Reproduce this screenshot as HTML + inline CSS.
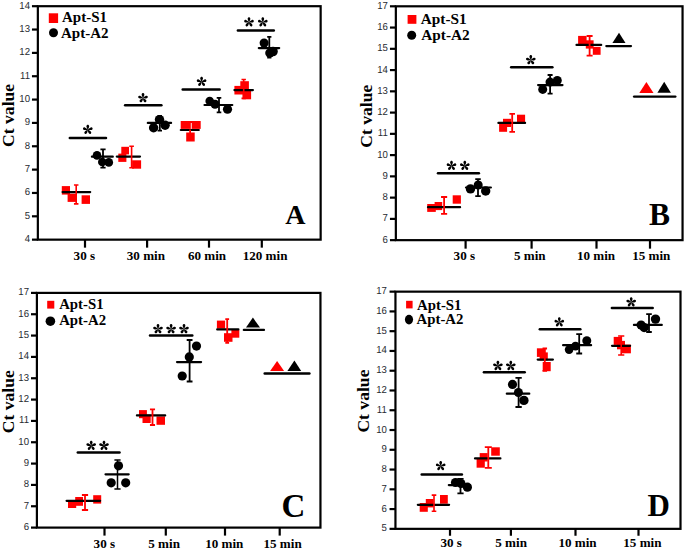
<!DOCTYPE html><html><head><meta charset="utf-8"><style>html,body{margin:0;padding:0;background:#fff;width:685px;height:549px;overflow:hidden}svg{display:block}</style></head><body>
<svg width="685" height="549" viewBox="0 0 685 549">
<rect width="685" height="549" fill="#fff"/>
<rect x="37.85" y="6.2" width="282.8" height="233.45" fill="none" stroke="#000" stroke-width="2.2"/>
<line x1="31.95" y1="239.65" x2="37.85" y2="239.65" stroke="#000" stroke-width="2.2"/>
<text transform="translate(30,242.15) scale(1,1.06)" font-family="'Liberation Sans', sans-serif" font-size="9.6" fill="#262a30" text-anchor="end" text-rendering="geometricPrecision">4</text>
<line x1="31.95" y1="216.31" x2="37.85" y2="216.31" stroke="#000" stroke-width="2.2"/>
<text transform="translate(30,218.81) scale(1,1.06)" font-family="'Liberation Sans', sans-serif" font-size="9.6" fill="#262a30" text-anchor="end" text-rendering="geometricPrecision">5</text>
<line x1="31.95" y1="192.96" x2="37.85" y2="192.96" stroke="#000" stroke-width="2.2"/>
<text transform="translate(30,195.46) scale(1,1.06)" font-family="'Liberation Sans', sans-serif" font-size="9.6" fill="#262a30" text-anchor="end" text-rendering="geometricPrecision">6</text>
<line x1="31.95" y1="169.62" x2="37.85" y2="169.62" stroke="#000" stroke-width="2.2"/>
<text transform="translate(30,172.12) scale(1,1.06)" font-family="'Liberation Sans', sans-serif" font-size="9.6" fill="#262a30" text-anchor="end" text-rendering="geometricPrecision">7</text>
<line x1="31.95" y1="146.27" x2="37.85" y2="146.27" stroke="#000" stroke-width="2.2"/>
<text transform="translate(30,148.77) scale(1,1.06)" font-family="'Liberation Sans', sans-serif" font-size="9.6" fill="#262a30" text-anchor="end" text-rendering="geometricPrecision">8</text>
<line x1="31.95" y1="122.92" x2="37.85" y2="122.92" stroke="#000" stroke-width="2.2"/>
<text transform="translate(30,125.42) scale(1,1.06)" font-family="'Liberation Sans', sans-serif" font-size="9.6" fill="#262a30" text-anchor="end" text-rendering="geometricPrecision">9</text>
<line x1="31.95" y1="99.58" x2="37.85" y2="99.58" stroke="#000" stroke-width="2.2"/>
<text transform="translate(30,102.08) scale(1,1.06)" font-family="'Liberation Sans', sans-serif" font-size="9.6" fill="#262a30" text-anchor="end" text-rendering="geometricPrecision">10</text>
<line x1="31.95" y1="76.23" x2="37.85" y2="76.23" stroke="#000" stroke-width="2.2"/>
<text transform="translate(30,78.73) scale(1,1.06)" font-family="'Liberation Sans', sans-serif" font-size="9.6" fill="#262a30" text-anchor="end" text-rendering="geometricPrecision">11</text>
<line x1="31.95" y1="52.89" x2="37.85" y2="52.89" stroke="#000" stroke-width="2.2"/>
<text transform="translate(30,55.39) scale(1,1.06)" font-family="'Liberation Sans', sans-serif" font-size="9.6" fill="#262a30" text-anchor="end" text-rendering="geometricPrecision">12</text>
<line x1="31.95" y1="29.54" x2="37.85" y2="29.54" stroke="#000" stroke-width="2.2"/>
<text transform="translate(30,32.04) scale(1,1.06)" font-family="'Liberation Sans', sans-serif" font-size="9.6" fill="#262a30" text-anchor="end" text-rendering="geometricPrecision">13</text>
<line x1="31.95" y1="6.2" x2="37.85" y2="6.2" stroke="#000" stroke-width="2.2"/>
<text transform="translate(30,8.7) scale(1,1.06)" font-family="'Liberation Sans', sans-serif" font-size="9.6" fill="#262a30" text-anchor="end" text-rendering="geometricPrecision">14</text>
<line x1="85" y1="239.65" x2="85" y2="247.65" stroke="#000" stroke-width="2.2"/>
<text transform="translate(73.6,260.3) scale(1,1.03)" font-family="'Liberation Serif', serif" font-weight="bold" font-size="13.1" fill="#000">30 s</text>
<line x1="147.1" y1="239.65" x2="147.1" y2="247.65" stroke="#000" stroke-width="2.2"/>
<text transform="translate(126.8,260.3) scale(1,1.03)" font-family="'Liberation Serif', serif" font-weight="bold" font-size="13.1" fill="#000">30 min</text>
<line x1="209" y1="239.65" x2="209" y2="247.65" stroke="#000" stroke-width="2.2"/>
<text transform="translate(187.9,260.3) scale(1,1.03)" font-family="'Liberation Serif', serif" font-weight="bold" font-size="13.1" fill="#000">60 min</text>
<line x1="261.8" y1="239.65" x2="261.8" y2="247.65" stroke="#000" stroke-width="2.2"/>
<text transform="translate(242.7,260.3) scale(1,1.03)" font-family="'Liberation Serif', serif" font-weight="bold" font-size="13.1" fill="#000">120 min</text>
<text transform="translate(14.2,146.9) rotate(-90)" x="0" y="0" font-family="'Liberation Serif', serif" font-weight="bold" font-size="17.6" fill="#000">Ct value</text>
<rect x="395.85" y="6.3" width="286.7" height="233.85" fill="none" stroke="#000" stroke-width="2.2"/>
<line x1="389.95" y1="240.15" x2="395.85" y2="240.15" stroke="#000" stroke-width="2.2"/>
<text transform="translate(387.8,242.65) scale(1,1.06)" font-family="'Liberation Sans', sans-serif" font-size="9.6" fill="#262a30" text-anchor="end" text-rendering="geometricPrecision">6</text>
<line x1="389.95" y1="218.89" x2="395.85" y2="218.89" stroke="#000" stroke-width="2.2"/>
<text transform="translate(387.8,221.39) scale(1,1.06)" font-family="'Liberation Sans', sans-serif" font-size="9.6" fill="#262a30" text-anchor="end" text-rendering="geometricPrecision">7</text>
<line x1="389.95" y1="197.63" x2="395.85" y2="197.63" stroke="#000" stroke-width="2.2"/>
<text transform="translate(387.8,200.13) scale(1,1.06)" font-family="'Liberation Sans', sans-serif" font-size="9.6" fill="#262a30" text-anchor="end" text-rendering="geometricPrecision">8</text>
<line x1="389.95" y1="176.37" x2="395.85" y2="176.37" stroke="#000" stroke-width="2.2"/>
<text transform="translate(387.8,178.87) scale(1,1.06)" font-family="'Liberation Sans', sans-serif" font-size="9.6" fill="#262a30" text-anchor="end" text-rendering="geometricPrecision">9</text>
<line x1="389.95" y1="155.11" x2="395.85" y2="155.11" stroke="#000" stroke-width="2.2"/>
<text transform="translate(387.8,157.61) scale(1,1.06)" font-family="'Liberation Sans', sans-serif" font-size="9.6" fill="#262a30" text-anchor="end" text-rendering="geometricPrecision">10</text>
<line x1="389.95" y1="133.85" x2="395.85" y2="133.85" stroke="#000" stroke-width="2.2"/>
<text transform="translate(387.8,136.35) scale(1,1.06)" font-family="'Liberation Sans', sans-serif" font-size="9.6" fill="#262a30" text-anchor="end" text-rendering="geometricPrecision">11</text>
<line x1="389.95" y1="112.6" x2="395.85" y2="112.6" stroke="#000" stroke-width="2.2"/>
<text transform="translate(387.8,115.1) scale(1,1.06)" font-family="'Liberation Sans', sans-serif" font-size="9.6" fill="#262a30" text-anchor="end" text-rendering="geometricPrecision">12</text>
<line x1="389.95" y1="91.34" x2="395.85" y2="91.34" stroke="#000" stroke-width="2.2"/>
<text transform="translate(387.8,93.84) scale(1,1.06)" font-family="'Liberation Sans', sans-serif" font-size="9.6" fill="#262a30" text-anchor="end" text-rendering="geometricPrecision">13</text>
<line x1="389.95" y1="70.08" x2="395.85" y2="70.08" stroke="#000" stroke-width="2.2"/>
<text transform="translate(387.8,72.58) scale(1,1.06)" font-family="'Liberation Sans', sans-serif" font-size="9.6" fill="#262a30" text-anchor="end" text-rendering="geometricPrecision">14</text>
<line x1="389.95" y1="48.82" x2="395.85" y2="48.82" stroke="#000" stroke-width="2.2"/>
<text transform="translate(387.8,51.32) scale(1,1.06)" font-family="'Liberation Sans', sans-serif" font-size="9.6" fill="#262a30" text-anchor="end" text-rendering="geometricPrecision">15</text>
<line x1="389.95" y1="27.56" x2="395.85" y2="27.56" stroke="#000" stroke-width="2.2"/>
<text transform="translate(387.8,30.06) scale(1,1.06)" font-family="'Liberation Sans', sans-serif" font-size="9.6" fill="#262a30" text-anchor="end" text-rendering="geometricPrecision">16</text>
<line x1="389.95" y1="6.3" x2="395.85" y2="6.3" stroke="#000" stroke-width="2.2"/>
<text transform="translate(387.8,8.8) scale(1,1.06)" font-family="'Liberation Sans', sans-serif" font-size="9.6" fill="#262a30" text-anchor="end" text-rendering="geometricPrecision">17</text>
<line x1="465.6" y1="240.15" x2="465.6" y2="248.65" stroke="#000" stroke-width="2.2"/>
<text transform="translate(453.6,260.3) scale(1,1.03)" font-family="'Liberation Serif', serif" font-weight="bold" font-size="13.1" fill="#000">30 s</text>
<line x1="531.6" y1="240.15" x2="531.6" y2="248.65" stroke="#000" stroke-width="2.2"/>
<text transform="translate(514,260.3) scale(1,1.03)" font-family="'Liberation Serif', serif" font-weight="bold" font-size="13.1" fill="#000">5 min</text>
<line x1="596.5" y1="240.15" x2="596.5" y2="248.65" stroke="#000" stroke-width="2.2"/>
<text transform="translate(576.9,260.3) scale(1,1.03)" font-family="'Liberation Serif', serif" font-weight="bold" font-size="13.1" fill="#000">10 min</text>
<line x1="650" y1="240.15" x2="650" y2="248.65" stroke="#000" stroke-width="2.2"/>
<text transform="translate(632.2,260.3) scale(1,1.03)" font-family="'Liberation Serif', serif" font-weight="bold" font-size="13.1" fill="#000">15 min</text>
<text transform="translate(371.9,147.8) rotate(-90)" x="0" y="0" font-family="'Liberation Serif', serif" font-weight="bold" font-size="17.6" fill="#000">Ct value</text>
<rect x="36.9" y="292.9" width="283.55" height="234.7" fill="none" stroke="#000" stroke-width="2.2"/>
<line x1="31" y1="527.6" x2="36.9" y2="527.6" stroke="#000" stroke-width="2.2"/>
<text transform="translate(29,530.1) scale(1,1.06)" font-family="'Liberation Sans', sans-serif" font-size="9.6" fill="#262a30" text-anchor="end" text-rendering="geometricPrecision">6</text>
<line x1="31" y1="506.26" x2="36.9" y2="506.26" stroke="#000" stroke-width="2.2"/>
<text transform="translate(29,508.76) scale(1,1.06)" font-family="'Liberation Sans', sans-serif" font-size="9.6" fill="#262a30" text-anchor="end" text-rendering="geometricPrecision">7</text>
<line x1="31" y1="484.93" x2="36.9" y2="484.93" stroke="#000" stroke-width="2.2"/>
<text transform="translate(29,487.43) scale(1,1.06)" font-family="'Liberation Sans', sans-serif" font-size="9.6" fill="#262a30" text-anchor="end" text-rendering="geometricPrecision">8</text>
<line x1="31" y1="463.59" x2="36.9" y2="463.59" stroke="#000" stroke-width="2.2"/>
<text transform="translate(29,466.09) scale(1,1.06)" font-family="'Liberation Sans', sans-serif" font-size="9.6" fill="#262a30" text-anchor="end" text-rendering="geometricPrecision">9</text>
<line x1="31" y1="442.25" x2="36.9" y2="442.25" stroke="#000" stroke-width="2.2"/>
<text transform="translate(29,444.75) scale(1,1.06)" font-family="'Liberation Sans', sans-serif" font-size="9.6" fill="#262a30" text-anchor="end" text-rendering="geometricPrecision">10</text>
<line x1="31" y1="420.92" x2="36.9" y2="420.92" stroke="#000" stroke-width="2.2"/>
<text transform="translate(29,423.42) scale(1,1.06)" font-family="'Liberation Sans', sans-serif" font-size="9.6" fill="#262a30" text-anchor="end" text-rendering="geometricPrecision">11</text>
<line x1="31" y1="399.58" x2="36.9" y2="399.58" stroke="#000" stroke-width="2.2"/>
<text transform="translate(29,402.08) scale(1,1.06)" font-family="'Liberation Sans', sans-serif" font-size="9.6" fill="#262a30" text-anchor="end" text-rendering="geometricPrecision">12</text>
<line x1="31" y1="378.25" x2="36.9" y2="378.25" stroke="#000" stroke-width="2.2"/>
<text transform="translate(29,380.75) scale(1,1.06)" font-family="'Liberation Sans', sans-serif" font-size="9.6" fill="#262a30" text-anchor="end" text-rendering="geometricPrecision">13</text>
<line x1="31" y1="356.91" x2="36.9" y2="356.91" stroke="#000" stroke-width="2.2"/>
<text transform="translate(29,359.41) scale(1,1.06)" font-family="'Liberation Sans', sans-serif" font-size="9.6" fill="#262a30" text-anchor="end" text-rendering="geometricPrecision">14</text>
<line x1="31" y1="335.57" x2="36.9" y2="335.57" stroke="#000" stroke-width="2.2"/>
<text transform="translate(29,338.07) scale(1,1.06)" font-family="'Liberation Sans', sans-serif" font-size="9.6" fill="#262a30" text-anchor="end" text-rendering="geometricPrecision">15</text>
<line x1="31" y1="314.24" x2="36.9" y2="314.24" stroke="#000" stroke-width="2.2"/>
<text transform="translate(29,316.74) scale(1,1.06)" font-family="'Liberation Sans', sans-serif" font-size="9.6" fill="#262a30" text-anchor="end" text-rendering="geometricPrecision">16</text>
<line x1="31" y1="292.9" x2="36.9" y2="292.9" stroke="#000" stroke-width="2.2"/>
<text transform="translate(29,295.4) scale(1,1.06)" font-family="'Liberation Sans', sans-serif" font-size="9.6" fill="#262a30" text-anchor="end" text-rendering="geometricPrecision">17</text>
<line x1="104.5" y1="527.6" x2="104.5" y2="535.6" stroke="#000" stroke-width="2.2"/>
<text transform="translate(93.6,547.6) scale(1,1.03)" font-family="'Liberation Serif', serif" font-weight="bold" font-size="13.1" fill="#000">30 s</text>
<line x1="165.8" y1="527.6" x2="165.8" y2="535.6" stroke="#000" stroke-width="2.2"/>
<text transform="translate(148.3,547.6) scale(1,1.03)" font-family="'Liberation Serif', serif" font-weight="bold" font-size="13.1" fill="#000">5 min</text>
<line x1="225" y1="527.6" x2="225" y2="535.6" stroke="#000" stroke-width="2.2"/>
<text transform="translate(205.2,547.6) scale(1,1.03)" font-family="'Liberation Serif', serif" font-weight="bold" font-size="13.1" fill="#000">10 min</text>
<line x1="279.7" y1="527.6" x2="279.7" y2="535.6" stroke="#000" stroke-width="2.2"/>
<text transform="translate(263.5,547.6) scale(1,1.03)" font-family="'Liberation Serif', serif" font-weight="bold" font-size="13.1" fill="#000">15 min</text>
<text transform="translate(13.8,433.3) rotate(-90)" x="0" y="0" font-family="'Liberation Serif', serif" font-weight="bold" font-size="17.6" fill="#000">Ct value</text>
<rect x="395.45" y="291.65" width="285.05" height="237.2" fill="none" stroke="#000" stroke-width="2.2"/>
<line x1="389.55" y1="528.85" x2="395.45" y2="528.85" stroke="#000" stroke-width="2.2"/>
<text transform="translate(386.8,531.35) scale(1,1.06)" font-family="'Liberation Sans', sans-serif" font-size="9.6" fill="#262a30" text-anchor="end" text-rendering="geometricPrecision">5</text>
<line x1="389.55" y1="509.08" x2="395.45" y2="509.08" stroke="#000" stroke-width="2.2"/>
<text transform="translate(386.8,511.58) scale(1,1.06)" font-family="'Liberation Sans', sans-serif" font-size="9.6" fill="#262a30" text-anchor="end" text-rendering="geometricPrecision">6</text>
<line x1="389.55" y1="489.32" x2="395.45" y2="489.32" stroke="#000" stroke-width="2.2"/>
<text transform="translate(386.8,491.82) scale(1,1.06)" font-family="'Liberation Sans', sans-serif" font-size="9.6" fill="#262a30" text-anchor="end" text-rendering="geometricPrecision">7</text>
<line x1="389.55" y1="469.55" x2="395.45" y2="469.55" stroke="#000" stroke-width="2.2"/>
<text transform="translate(386.8,472.05) scale(1,1.06)" font-family="'Liberation Sans', sans-serif" font-size="9.6" fill="#262a30" text-anchor="end" text-rendering="geometricPrecision">8</text>
<line x1="389.55" y1="449.78" x2="395.45" y2="449.78" stroke="#000" stroke-width="2.2"/>
<text transform="translate(386.8,452.28) scale(1,1.06)" font-family="'Liberation Sans', sans-serif" font-size="9.6" fill="#262a30" text-anchor="end" text-rendering="geometricPrecision">9</text>
<line x1="389.55" y1="430.02" x2="395.45" y2="430.02" stroke="#000" stroke-width="2.2"/>
<text transform="translate(386.8,432.52) scale(1,1.06)" font-family="'Liberation Sans', sans-serif" font-size="9.6" fill="#262a30" text-anchor="end" text-rendering="geometricPrecision">10</text>
<line x1="389.55" y1="410.25" x2="395.45" y2="410.25" stroke="#000" stroke-width="2.2"/>
<text transform="translate(386.8,412.75) scale(1,1.06)" font-family="'Liberation Sans', sans-serif" font-size="9.6" fill="#262a30" text-anchor="end" text-rendering="geometricPrecision">11</text>
<line x1="389.55" y1="390.48" x2="395.45" y2="390.48" stroke="#000" stroke-width="2.2"/>
<text transform="translate(386.8,392.98) scale(1,1.06)" font-family="'Liberation Sans', sans-serif" font-size="9.6" fill="#262a30" text-anchor="end" text-rendering="geometricPrecision">12</text>
<line x1="389.55" y1="370.72" x2="395.45" y2="370.72" stroke="#000" stroke-width="2.2"/>
<text transform="translate(386.8,373.22) scale(1,1.06)" font-family="'Liberation Sans', sans-serif" font-size="9.6" fill="#262a30" text-anchor="end" text-rendering="geometricPrecision">13</text>
<line x1="389.55" y1="350.95" x2="395.45" y2="350.95" stroke="#000" stroke-width="2.2"/>
<text transform="translate(386.8,353.45) scale(1,1.06)" font-family="'Liberation Sans', sans-serif" font-size="9.6" fill="#262a30" text-anchor="end" text-rendering="geometricPrecision">14</text>
<line x1="389.55" y1="331.18" x2="395.45" y2="331.18" stroke="#000" stroke-width="2.2"/>
<text transform="translate(386.8,333.68) scale(1,1.06)" font-family="'Liberation Sans', sans-serif" font-size="9.6" fill="#262a30" text-anchor="end" text-rendering="geometricPrecision">15</text>
<line x1="389.55" y1="311.42" x2="395.45" y2="311.42" stroke="#000" stroke-width="2.2"/>
<text transform="translate(386.8,313.92) scale(1,1.06)" font-family="'Liberation Sans', sans-serif" font-size="9.6" fill="#262a30" text-anchor="end" text-rendering="geometricPrecision">16</text>
<line x1="389.55" y1="291.65" x2="395.45" y2="291.65" stroke="#000" stroke-width="2.2"/>
<text transform="translate(386.8,294.15) scale(1,1.06)" font-family="'Liberation Sans', sans-serif" font-size="9.6" fill="#262a30" text-anchor="end" text-rendering="geometricPrecision">17</text>
<line x1="450" y1="528.85" x2="450" y2="535.75" stroke="#000" stroke-width="2.2"/>
<text transform="translate(440.5,546.8) scale(1,1.03)" font-family="'Liberation Serif', serif" font-weight="bold" font-size="13.1" fill="#000">30 s</text>
<line x1="510.9" y1="528.85" x2="510.9" y2="535.75" stroke="#000" stroke-width="2.2"/>
<text transform="translate(495.3,546.8) scale(1,1.03)" font-family="'Liberation Serif', serif" font-weight="bold" font-size="13.1" fill="#000">5 min</text>
<line x1="575.5" y1="528.85" x2="575.5" y2="535.75" stroke="#000" stroke-width="2.2"/>
<text transform="translate(558.4,546.8) scale(1,1.03)" font-family="'Liberation Serif', serif" font-weight="bold" font-size="13.1" fill="#000">10 min</text>
<line x1="638.5" y1="528.85" x2="638.5" y2="535.75" stroke="#000" stroke-width="2.2"/>
<text transform="translate(623.3,546.8) scale(1,1.03)" font-family="'Liberation Serif', serif" font-weight="bold" font-size="13.1" fill="#000">15 min</text>
<text transform="translate(368.7,432.6) rotate(-90)" x="0" y="0" font-family="'Liberation Serif', serif" font-weight="bold" font-size="17.6" fill="#000">Ct value</text>
<rect x="61.8" y="186.1" width="8.2" height="8.5" fill="#ff0000"/>
<rect x="67.6" y="193.7" width="8.5" height="8.2" fill="#ff0000"/>
<rect x="81.6" y="195.3" width="8.4" height="8.6" fill="#ff0000"/>
<line x1="62.6" y1="192.1" x2="90.2" y2="192.1" stroke="#000" stroke-width="2.2" stroke-linecap="round"/>
<path d="M76.2 185V203.9M73.95 185H78.45M73.95 203.9H78.45" stroke="#ff0000" stroke-width="1.6" fill="none"/>
<circle cx="97" cy="155.4" r="4.3" fill="#000"/>
<circle cx="102.3" cy="162" r="4.3" fill="#000"/>
<circle cx="108.8" cy="162.4" r="4.3" fill="#000"/>
<line x1="91.9" y1="156.7" x2="112.8" y2="156.7" stroke="#000" stroke-width="2.2" stroke-linecap="round"/>
<path d="M103 149.3V167.6M100.4 149.3H105.6M100.4 167.6H105.6" stroke="#000" stroke-width="1.8" fill="none"/>
<line x1="69.8" y1="137.9" x2="106" y2="137.9" stroke="#000" stroke-width="2.5" stroke-linecap="round"/>
<g transform="translate(87.8,129.75)"><path transform="rotate(0)" d="M0 0.2C-0.6 -0.9 -1.3 -2.4 -1.3 -3.5C-1.3 -4.5 -0.65 -5 0 -5C0.65 -5 1.3 -4.5 1.3 -3.5C1.3 -2.4 0.6 -0.9 0 0.2Z"/><path transform="rotate(72)" d="M0 0.2C-0.6 -0.9 -1.3 -2.4 -1.3 -3.5C-1.3 -4.5 -0.65 -5 0 -5C0.65 -5 1.3 -4.5 1.3 -3.5C1.3 -2.4 0.6 -0.9 0 0.2Z"/><path transform="rotate(144)" d="M0 0.2C-0.6 -0.9 -1.3 -2.4 -1.3 -3.5C-1.3 -4.5 -0.65 -5 0 -5C0.65 -5 1.3 -4.5 1.3 -3.5C1.3 -2.4 0.6 -0.9 0 0.2Z"/><path transform="rotate(216)" d="M0 0.2C-0.6 -0.9 -1.3 -2.4 -1.3 -3.5C-1.3 -4.5 -0.65 -5 0 -5C0.65 -5 1.3 -4.5 1.3 -3.5C1.3 -2.4 0.6 -0.9 0 0.2Z"/><path transform="rotate(288)" d="M0 0.2C-0.6 -0.9 -1.3 -2.4 -1.3 -3.5C-1.3 -4.5 -0.65 -5 0 -5C0.65 -5 1.3 -4.5 1.3 -3.5C1.3 -2.4 0.6 -0.9 0 0.2Z"/></g>
<rect x="118.3" y="153.6" width="8.1" height="8.3" fill="#ff0000"/>
<rect x="121.3" y="146.8" width="7.7" height="7.6" fill="#ff0000"/>
<rect x="132.1" y="160.3" width="9" height="8.4" fill="#ff0000"/>
<line x1="116.8" y1="156.6" x2="140" y2="156.6" stroke="#000" stroke-width="2.2" stroke-linecap="round"/>
<path d="M131.6 146.2V167.8M129.3 146.2H133.9M129.3 167.8H133.9" stroke="#ff0000" stroke-width="1.6" fill="none"/>
<circle cx="159.5" cy="119.6" r="4.7" fill="#000"/>
<circle cx="153.6" cy="127.7" r="4.7" fill="#000"/>
<circle cx="165.1" cy="125.2" r="4.7" fill="#000"/>
<line x1="147.8" y1="122.9" x2="171.1" y2="122.9" stroke="#000" stroke-width="2.2" stroke-linecap="round"/>
<path d="M159.8 115.9V130.7M157.6 115.9H162M157.6 130.7H162" stroke="#000" stroke-width="1.8" fill="none"/>
<line x1="125.1" y1="105.3" x2="161.4" y2="105.3" stroke="#000" stroke-width="2.5" stroke-linecap="round"/>
<g transform="translate(143,98.05)"><path transform="rotate(0)" d="M0 0.2C-0.6 -0.9 -1.3 -2.4 -1.3 -3.5C-1.3 -4.5 -0.65 -5 0 -5C0.65 -5 1.3 -4.5 1.3 -3.5C1.3 -2.4 0.6 -0.9 0 0.2Z"/><path transform="rotate(72)" d="M0 0.2C-0.6 -0.9 -1.3 -2.4 -1.3 -3.5C-1.3 -4.5 -0.65 -5 0 -5C0.65 -5 1.3 -4.5 1.3 -3.5C1.3 -2.4 0.6 -0.9 0 0.2Z"/><path transform="rotate(144)" d="M0 0.2C-0.6 -0.9 -1.3 -2.4 -1.3 -3.5C-1.3 -4.5 -0.65 -5 0 -5C0.65 -5 1.3 -4.5 1.3 -3.5C1.3 -2.4 0.6 -0.9 0 0.2Z"/><path transform="rotate(216)" d="M0 0.2C-0.6 -0.9 -1.3 -2.4 -1.3 -3.5C-1.3 -4.5 -0.65 -5 0 -5C0.65 -5 1.3 -4.5 1.3 -3.5C1.3 -2.4 0.6 -0.9 0 0.2Z"/><path transform="rotate(288)" d="M0 0.2C-0.6 -0.9 -1.3 -2.4 -1.3 -3.5C-1.3 -4.5 -0.65 -5 0 -5C0.65 -5 1.3 -4.5 1.3 -3.5C1.3 -2.4 0.6 -0.9 0 0.2Z"/></g>
<rect x="180.7" y="121" width="20" height="7.9" fill="#ff0000"/>
<rect x="186.2" y="132.5" width="8.5" height="9" fill="#ff0000"/>
<line x1="180.8" y1="130" x2="198.8" y2="130" stroke="#000" stroke-width="2.2" stroke-linecap="round"/>
<rect x="190.8" y="123" width="0.9" height="5.9" fill="#fff"/>
<path d="M190.1 129.5V133.5" stroke="#ff0000" stroke-width="1.8"/>
<circle cx="209.7" cy="101" r="4.3" fill="#000"/>
<circle cx="215" cy="104.2" r="4.5" fill="#000"/>
<circle cx="227.5" cy="109.2" r="4.6" fill="#000"/>
<line x1="204.5" y1="105" x2="232.3" y2="105" stroke="#000" stroke-width="2.2" stroke-linecap="round"/>
<path d="M219 97.8V112.4M216.7 97.8H221.3M216.7 112.4H221.3" stroke="#000" stroke-width="1.8" fill="none"/>
<line x1="182.7" y1="89.6" x2="219.6" y2="89.6" stroke="#000" stroke-width="2.5" stroke-linecap="round"/>
<g transform="translate(201.6,81.75)"><path transform="rotate(0)" d="M0 0.2C-0.6 -0.9 -1.3 -2.4 -1.3 -3.5C-1.3 -4.5 -0.65 -5 0 -5C0.65 -5 1.3 -4.5 1.3 -3.5C1.3 -2.4 0.6 -0.9 0 0.2Z"/><path transform="rotate(72)" d="M0 0.2C-0.6 -0.9 -1.3 -2.4 -1.3 -3.5C-1.3 -4.5 -0.65 -5 0 -5C0.65 -5 1.3 -4.5 1.3 -3.5C1.3 -2.4 0.6 -0.9 0 0.2Z"/><path transform="rotate(144)" d="M0 0.2C-0.6 -0.9 -1.3 -2.4 -1.3 -3.5C-1.3 -4.5 -0.65 -5 0 -5C0.65 -5 1.3 -4.5 1.3 -3.5C1.3 -2.4 0.6 -0.9 0 0.2Z"/><path transform="rotate(216)" d="M0 0.2C-0.6 -0.9 -1.3 -2.4 -1.3 -3.5C-1.3 -4.5 -0.65 -5 0 -5C0.65 -5 1.3 -4.5 1.3 -3.5C1.3 -2.4 0.6 -0.9 0 0.2Z"/><path transform="rotate(288)" d="M0 0.2C-0.6 -0.9 -1.3 -2.4 -1.3 -3.5C-1.3 -4.5 -0.65 -5 0 -5C0.65 -5 1.3 -4.5 1.3 -3.5C1.3 -2.4 0.6 -0.9 0 0.2Z"/></g>
<rect x="240.3" y="81.2" width="8.6" height="7.9" fill="#ff0000"/>
<rect x="234.4" y="85.9" width="9.1" height="8.6" fill="#ff0000"/>
<rect x="242.5" y="90.7" width="8.6" height="8.6" fill="#ff0000"/>
<line x1="234.4" y1="90.1" x2="252.9" y2="90.1" stroke="#000" stroke-width="2.2" stroke-linecap="round"/>
<path d="M243.7 79.5V98.4M241.5 79.5H245.9M241.5 98.4H245.9" stroke="#ff0000" stroke-width="1.6" fill="none"/>
<circle cx="264.1" cy="43" r="4.5" fill="#000"/>
<circle cx="269.8" cy="53" r="4.6" fill="#000"/>
<circle cx="273" cy="51.5" r="4.8" fill="#000"/>
<line x1="258.8" y1="48.1" x2="279.2" y2="48.1" stroke="#000" stroke-width="2.2" stroke-linecap="round"/>
<path d="M269.3 36.9V57.5M267.2 36.9H271.4M267.2 57.5H271.4" stroke="#000" stroke-width="1.8" fill="none"/>
<line x1="237.9" y1="30.6" x2="273.8" y2="30.6" stroke="#000" stroke-width="2.5" stroke-linecap="round"/>
<g transform="translate(249,22.25)"><path transform="rotate(0)" d="M0 0.2C-0.6 -0.9 -1.3 -2.4 -1.3 -3.5C-1.3 -4.5 -0.65 -5 0 -5C0.65 -5 1.3 -4.5 1.3 -3.5C1.3 -2.4 0.6 -0.9 0 0.2Z"/><path transform="rotate(72)" d="M0 0.2C-0.6 -0.9 -1.3 -2.4 -1.3 -3.5C-1.3 -4.5 -0.65 -5 0 -5C0.65 -5 1.3 -4.5 1.3 -3.5C1.3 -2.4 0.6 -0.9 0 0.2Z"/><path transform="rotate(144)" d="M0 0.2C-0.6 -0.9 -1.3 -2.4 -1.3 -3.5C-1.3 -4.5 -0.65 -5 0 -5C0.65 -5 1.3 -4.5 1.3 -3.5C1.3 -2.4 0.6 -0.9 0 0.2Z"/><path transform="rotate(216)" d="M0 0.2C-0.6 -0.9 -1.3 -2.4 -1.3 -3.5C-1.3 -4.5 -0.65 -5 0 -5C0.65 -5 1.3 -4.5 1.3 -3.5C1.3 -2.4 0.6 -0.9 0 0.2Z"/><path transform="rotate(288)" d="M0 0.2C-0.6 -0.9 -1.3 -2.4 -1.3 -3.5C-1.3 -4.5 -0.65 -5 0 -5C0.65 -5 1.3 -4.5 1.3 -3.5C1.3 -2.4 0.6 -0.9 0 0.2Z"/></g>
<g transform="translate(262.8,22.25)"><path transform="rotate(0)" d="M0 0.2C-0.6 -0.9 -1.3 -2.4 -1.3 -3.5C-1.3 -4.5 -0.65 -5 0 -5C0.65 -5 1.3 -4.5 1.3 -3.5C1.3 -2.4 0.6 -0.9 0 0.2Z"/><path transform="rotate(72)" d="M0 0.2C-0.6 -0.9 -1.3 -2.4 -1.3 -3.5C-1.3 -4.5 -0.65 -5 0 -5C0.65 -5 1.3 -4.5 1.3 -3.5C1.3 -2.4 0.6 -0.9 0 0.2Z"/><path transform="rotate(144)" d="M0 0.2C-0.6 -0.9 -1.3 -2.4 -1.3 -3.5C-1.3 -4.5 -0.65 -5 0 -5C0.65 -5 1.3 -4.5 1.3 -3.5C1.3 -2.4 0.6 -0.9 0 0.2Z"/><path transform="rotate(216)" d="M0 0.2C-0.6 -0.9 -1.3 -2.4 -1.3 -3.5C-1.3 -4.5 -0.65 -5 0 -5C0.65 -5 1.3 -4.5 1.3 -3.5C1.3 -2.4 0.6 -0.9 0 0.2Z"/><path transform="rotate(288)" d="M0 0.2C-0.6 -0.9 -1.3 -2.4 -1.3 -3.5C-1.3 -4.5 -0.65 -5 0 -5C0.65 -5 1.3 -4.5 1.3 -3.5C1.3 -2.4 0.6 -0.9 0 0.2Z"/></g>
<rect x="48.8" y="13.3" width="9.3" height="9.7" fill="#ff0000"/>
<circle cx="53.5" cy="32.8" r="4.5" fill="#000"/>
<text x="62" y="21.9" font-family="'Liberation Serif', serif" font-weight="bold" font-size="15" fill="#000">Apt-S1</text>
<text x="61" y="38.2" font-family="'Liberation Serif', serif" font-weight="bold" font-size="15" fill="#000">Apt-A2</text>
<text x="285.3" y="223.6" font-family="'Liberation Serif', serif" font-weight="bold" font-size="28" fill="#000">A</text>
<rect x="427.2" y="204" width="8.6" height="7.9" fill="#ff0000"/>
<rect x="434.6" y="202" width="7.6" height="8.1" fill="#ff0000"/>
<rect x="452.7" y="195.3" width="8.2" height="8.4" fill="#ff0000"/>
<line x1="428" y1="207.2" x2="460.1" y2="207.2" stroke="#000" stroke-width="2.2" stroke-linecap="round"/>
<path d="M444.1 197V213.9M441.05 197H447.15M441.05 213.9H447.15" stroke="#ff0000" stroke-width="1.8" fill="none"/>
<circle cx="470.5" cy="188.9" r="4.7" fill="#000"/>
<circle cx="478.2" cy="185" r="4.5" fill="#000"/>
<circle cx="485.7" cy="191" r="4.7" fill="#000"/>
<line x1="466" y1="187.5" x2="490.9" y2="187.5" stroke="#000" stroke-width="2.2" stroke-linecap="round"/>
<path d="M478 179.1V196.2M475.25 179.1H480.75M475.25 196.2H480.75" stroke="#000" stroke-width="1.8" fill="none"/>
<line x1="438" y1="173.3" x2="478.9" y2="173.3" stroke="#000" stroke-width="2.5" stroke-linecap="round"/>
<g transform="translate(451.5,165.75)"><path transform="rotate(0)" d="M0 0.2C-0.6 -0.9 -1.3 -2.4 -1.3 -3.5C-1.3 -4.5 -0.65 -5 0 -5C0.65 -5 1.3 -4.5 1.3 -3.5C1.3 -2.4 0.6 -0.9 0 0.2Z"/><path transform="rotate(72)" d="M0 0.2C-0.6 -0.9 -1.3 -2.4 -1.3 -3.5C-1.3 -4.5 -0.65 -5 0 -5C0.65 -5 1.3 -4.5 1.3 -3.5C1.3 -2.4 0.6 -0.9 0 0.2Z"/><path transform="rotate(144)" d="M0 0.2C-0.6 -0.9 -1.3 -2.4 -1.3 -3.5C-1.3 -4.5 -0.65 -5 0 -5C0.65 -5 1.3 -4.5 1.3 -3.5C1.3 -2.4 0.6 -0.9 0 0.2Z"/><path transform="rotate(216)" d="M0 0.2C-0.6 -0.9 -1.3 -2.4 -1.3 -3.5C-1.3 -4.5 -0.65 -5 0 -5C0.65 -5 1.3 -4.5 1.3 -3.5C1.3 -2.4 0.6 -0.9 0 0.2Z"/><path transform="rotate(288)" d="M0 0.2C-0.6 -0.9 -1.3 -2.4 -1.3 -3.5C-1.3 -4.5 -0.65 -5 0 -5C0.65 -5 1.3 -4.5 1.3 -3.5C1.3 -2.4 0.6 -0.9 0 0.2Z"/></g>
<g transform="translate(464.8,165.75)"><path transform="rotate(0)" d="M0 0.2C-0.6 -0.9 -1.3 -2.4 -1.3 -3.5C-1.3 -4.5 -0.65 -5 0 -5C0.65 -5 1.3 -4.5 1.3 -3.5C1.3 -2.4 0.6 -0.9 0 0.2Z"/><path transform="rotate(72)" d="M0 0.2C-0.6 -0.9 -1.3 -2.4 -1.3 -3.5C-1.3 -4.5 -0.65 -5 0 -5C0.65 -5 1.3 -4.5 1.3 -3.5C1.3 -2.4 0.6 -0.9 0 0.2Z"/><path transform="rotate(144)" d="M0 0.2C-0.6 -0.9 -1.3 -2.4 -1.3 -3.5C-1.3 -4.5 -0.65 -5 0 -5C0.65 -5 1.3 -4.5 1.3 -3.5C1.3 -2.4 0.6 -0.9 0 0.2Z"/><path transform="rotate(216)" d="M0 0.2C-0.6 -0.9 -1.3 -2.4 -1.3 -3.5C-1.3 -4.5 -0.65 -5 0 -5C0.65 -5 1.3 -4.5 1.3 -3.5C1.3 -2.4 0.6 -0.9 0 0.2Z"/><path transform="rotate(288)" d="M0 0.2C-0.6 -0.9 -1.3 -2.4 -1.3 -3.5C-1.3 -4.5 -0.65 -5 0 -5C0.65 -5 1.3 -4.5 1.3 -3.5C1.3 -2.4 0.6 -0.9 0 0.2Z"/></g>
<rect x="499.1" y="123.4" width="8" height="8.4" fill="#ff0000"/>
<rect x="503" y="118.8" width="8.1" height="8.2" fill="#ff0000"/>
<rect x="517" y="114.7" width="8.1" height="8.2" fill="#ff0000"/>
<line x1="498.4" y1="122.9" x2="525.1" y2="122.9" stroke="#000" stroke-width="2.2" stroke-linecap="round"/>
<path d="M512.2 113.9V131.9M509.4 113.9H515M509.4 131.9H515" stroke="#ff0000" stroke-width="1.8" fill="none"/>
<circle cx="542.7" cy="89.4" r="4.5" fill="#000"/>
<circle cx="550" cy="82.1" r="4.5" fill="#000"/>
<circle cx="557.3" cy="80.5" r="4.5" fill="#000"/>
<line x1="538.1" y1="85.1" x2="562.5" y2="85.1" stroke="#000" stroke-width="2.2" stroke-linecap="round"/>
<path d="M550.1 75V93.7M547.6 75H552.6M547.6 93.7H552.6" stroke="#000" stroke-width="1.8" fill="none"/>
<line x1="511.2" y1="67.3" x2="552.4" y2="67.3" stroke="#000" stroke-width="2.5" stroke-linecap="round"/>
<g transform="translate(530.8,60.05)"><path transform="rotate(0)" d="M0 0.2C-0.6 -0.9 -1.3 -2.4 -1.3 -3.5C-1.3 -4.5 -0.65 -5 0 -5C0.65 -5 1.3 -4.5 1.3 -3.5C1.3 -2.4 0.6 -0.9 0 0.2Z"/><path transform="rotate(72)" d="M0 0.2C-0.6 -0.9 -1.3 -2.4 -1.3 -3.5C-1.3 -4.5 -0.65 -5 0 -5C0.65 -5 1.3 -4.5 1.3 -3.5C1.3 -2.4 0.6 -0.9 0 0.2Z"/><path transform="rotate(144)" d="M0 0.2C-0.6 -0.9 -1.3 -2.4 -1.3 -3.5C-1.3 -4.5 -0.65 -5 0 -5C0.65 -5 1.3 -4.5 1.3 -3.5C1.3 -2.4 0.6 -0.9 0 0.2Z"/><path transform="rotate(216)" d="M0 0.2C-0.6 -0.9 -1.3 -2.4 -1.3 -3.5C-1.3 -4.5 -0.65 -5 0 -5C0.65 -5 1.3 -4.5 1.3 -3.5C1.3 -2.4 0.6 -0.9 0 0.2Z"/><path transform="rotate(288)" d="M0 0.2C-0.6 -0.9 -1.3 -2.4 -1.3 -3.5C-1.3 -4.5 -0.65 -5 0 -5C0.65 -5 1.3 -4.5 1.3 -3.5C1.3 -2.4 0.6 -0.9 0 0.2Z"/></g>
<rect x="578.1" y="35.9" width="8.5" height="8.1" fill="#ff0000"/>
<rect x="585.8" y="40.3" width="7.8" height="8.3" fill="#ff0000"/>
<rect x="592.8" y="46.9" width="7.8" height="7.9" fill="#ff0000"/>
<line x1="576.5" y1="44.9" x2="601.2" y2="44.9" stroke="#000" stroke-width="2.2" stroke-linecap="round"/>
<path d="M589.6 36V55.6M586.6 36H592.6M586.6 55.6H592.6" stroke="#ff0000" stroke-width="1.8" fill="none"/>
<path d="M612.4 42.9L619 32.7L625.5 42.9Z" fill="#000"/>
<line x1="606.3" y1="46.1" x2="631" y2="46.1" stroke="#000" stroke-width="2.2" stroke-linecap="round"/>
<path d="M639.3 92.9L646.4 81.9L653.5 92.9Z" fill="#ff0000"/>
<path d="M657.4 92.7L664.2 81.7L670.9 92.7Z" fill="#000"/>
<line x1="634.1" y1="96.6" x2="675.3" y2="96.6" stroke="#000" stroke-width="2.4" stroke-linecap="round"/>
<rect x="407.6" y="15" width="8.8" height="8.8" fill="#ff0000"/>
<circle cx="411.7" cy="35.3" r="4.5" fill="#000"/>
<text x="420.8" y="24.1" font-family="'Liberation Serif', serif" font-weight="bold" font-size="15.3" fill="#000">Apt-S1</text>
<text x="421.3" y="39.6" font-family="'Liberation Serif', serif" font-weight="bold" font-size="15.3" fill="#000">Apt-A2</text>
<text x="649" y="224.9" font-family="'Liberation Serif', serif" font-weight="bold" font-size="31.5" fill="#000">B</text>
<rect x="68" y="500.5" width="8.2" height="7.5" fill="#ff0000"/>
<rect x="75.2" y="497" width="7.8" height="8.8" fill="#ff0000"/>
<rect x="93.2" y="495.2" width="8" height="8.4" fill="#ff0000"/>
<line x1="66.6" y1="500.8" x2="100.1" y2="500.8" stroke="#000" stroke-width="2.2" stroke-linecap="round"/>
<path d="M85 495V510M81.9 495H88.1M81.9 510H88.1" stroke="#ff0000" stroke-width="1.8" fill="none"/>
<circle cx="118.5" cy="465.8" r="4.6" fill="#000"/>
<circle cx="111.2" cy="482.8" r="4.6" fill="#000"/>
<circle cx="125.7" cy="482.8" r="4.6" fill="#000"/>
<line x1="105.5" y1="474.3" x2="128.7" y2="474.3" stroke="#000" stroke-width="2.2" stroke-linecap="round"/>
<path d="M117.5 459.9V489.1M114.4 459.9H120.6M114.4 489.1H120.6" stroke="#000" stroke-width="1.5" fill="none"/>
<line x1="77.8" y1="452.5" x2="119.5" y2="452.5" stroke="#000" stroke-width="2.5" stroke-linecap="round"/>
<g transform="translate(91.2,445.65)"><path transform="rotate(0)" d="M0 0.2C-0.6 -0.9 -1.3 -2.4 -1.3 -3.5C-1.3 -4.5 -0.65 -5 0 -5C0.65 -5 1.3 -4.5 1.3 -3.5C1.3 -2.4 0.6 -0.9 0 0.2Z"/><path transform="rotate(72)" d="M0 0.2C-0.6 -0.9 -1.3 -2.4 -1.3 -3.5C-1.3 -4.5 -0.65 -5 0 -5C0.65 -5 1.3 -4.5 1.3 -3.5C1.3 -2.4 0.6 -0.9 0 0.2Z"/><path transform="rotate(144)" d="M0 0.2C-0.6 -0.9 -1.3 -2.4 -1.3 -3.5C-1.3 -4.5 -0.65 -5 0 -5C0.65 -5 1.3 -4.5 1.3 -3.5C1.3 -2.4 0.6 -0.9 0 0.2Z"/><path transform="rotate(216)" d="M0 0.2C-0.6 -0.9 -1.3 -2.4 -1.3 -3.5C-1.3 -4.5 -0.65 -5 0 -5C0.65 -5 1.3 -4.5 1.3 -3.5C1.3 -2.4 0.6 -0.9 0 0.2Z"/><path transform="rotate(288)" d="M0 0.2C-0.6 -0.9 -1.3 -2.4 -1.3 -3.5C-1.3 -4.5 -0.65 -5 0 -5C0.65 -5 1.3 -4.5 1.3 -3.5C1.3 -2.4 0.6 -0.9 0 0.2Z"/></g>
<g transform="translate(104,445.65)"><path transform="rotate(0)" d="M0 0.2C-0.6 -0.9 -1.3 -2.4 -1.3 -3.5C-1.3 -4.5 -0.65 -5 0 -5C0.65 -5 1.3 -4.5 1.3 -3.5C1.3 -2.4 0.6 -0.9 0 0.2Z"/><path transform="rotate(72)" d="M0 0.2C-0.6 -0.9 -1.3 -2.4 -1.3 -3.5C-1.3 -4.5 -0.65 -5 0 -5C0.65 -5 1.3 -4.5 1.3 -3.5C1.3 -2.4 0.6 -0.9 0 0.2Z"/><path transform="rotate(144)" d="M0 0.2C-0.6 -0.9 -1.3 -2.4 -1.3 -3.5C-1.3 -4.5 -0.65 -5 0 -5C0.65 -5 1.3 -4.5 1.3 -3.5C1.3 -2.4 0.6 -0.9 0 0.2Z"/><path transform="rotate(216)" d="M0 0.2C-0.6 -0.9 -1.3 -2.4 -1.3 -3.5C-1.3 -4.5 -0.65 -5 0 -5C0.65 -5 1.3 -4.5 1.3 -3.5C1.3 -2.4 0.6 -0.9 0 0.2Z"/><path transform="rotate(288)" d="M0 0.2C-0.6 -0.9 -1.3 -2.4 -1.3 -3.5C-1.3 -4.5 -0.65 -5 0 -5C0.65 -5 1.3 -4.5 1.3 -3.5C1.3 -2.4 0.6 -0.9 0 0.2Z"/></g>
<rect x="139" y="410.1" width="7.9" height="8.1" fill="#ff0000"/>
<rect x="142.5" y="414.5" width="8.2" height="8.5" fill="#ff0000"/>
<rect x="156.5" y="416.4" width="8.5" height="8.4" fill="#ff0000"/>
<line x1="136.9" y1="415.4" x2="165.2" y2="415.4" stroke="#000" stroke-width="2.2" stroke-linecap="round"/>
<path d="M152.5 409.3V425M149.95 409.3H155.05M149.95 425H155.05" stroke="#ff0000" stroke-width="1.8" fill="none"/>
<circle cx="196.5" cy="346.1" r="4.6" fill="#000"/>
<circle cx="189.3" cy="356.9" r="4.6" fill="#000"/>
<circle cx="182.2" cy="376" r="4.6" fill="#000"/>
<line x1="177" y1="362.1" x2="201.1" y2="362.1" stroke="#000" stroke-width="2.2" stroke-linecap="round"/>
<path d="M189.6 340V381.5M186.7 340H192.5M186.7 381.5H192.5" stroke="#000" stroke-width="1.8" fill="none"/>
<line x1="150" y1="335.4" x2="192.3" y2="335.4" stroke="#000" stroke-width="2.5" stroke-linecap="round"/>
<g transform="translate(158,329.05)"><path transform="rotate(0)" d="M0 0.2C-0.6 -0.9 -1.3 -2.4 -1.3 -3.5C-1.3 -4.5 -0.65 -5 0 -5C0.65 -5 1.3 -4.5 1.3 -3.5C1.3 -2.4 0.6 -0.9 0 0.2Z"/><path transform="rotate(72)" d="M0 0.2C-0.6 -0.9 -1.3 -2.4 -1.3 -3.5C-1.3 -4.5 -0.65 -5 0 -5C0.65 -5 1.3 -4.5 1.3 -3.5C1.3 -2.4 0.6 -0.9 0 0.2Z"/><path transform="rotate(144)" d="M0 0.2C-0.6 -0.9 -1.3 -2.4 -1.3 -3.5C-1.3 -4.5 -0.65 -5 0 -5C0.65 -5 1.3 -4.5 1.3 -3.5C1.3 -2.4 0.6 -0.9 0 0.2Z"/><path transform="rotate(216)" d="M0 0.2C-0.6 -0.9 -1.3 -2.4 -1.3 -3.5C-1.3 -4.5 -0.65 -5 0 -5C0.65 -5 1.3 -4.5 1.3 -3.5C1.3 -2.4 0.6 -0.9 0 0.2Z"/><path transform="rotate(288)" d="M0 0.2C-0.6 -0.9 -1.3 -2.4 -1.3 -3.5C-1.3 -4.5 -0.65 -5 0 -5C0.65 -5 1.3 -4.5 1.3 -3.5C1.3 -2.4 0.6 -0.9 0 0.2Z"/></g>
<g transform="translate(171.1,329.05)"><path transform="rotate(0)" d="M0 0.2C-0.6 -0.9 -1.3 -2.4 -1.3 -3.5C-1.3 -4.5 -0.65 -5 0 -5C0.65 -5 1.3 -4.5 1.3 -3.5C1.3 -2.4 0.6 -0.9 0 0.2Z"/><path transform="rotate(72)" d="M0 0.2C-0.6 -0.9 -1.3 -2.4 -1.3 -3.5C-1.3 -4.5 -0.65 -5 0 -5C0.65 -5 1.3 -4.5 1.3 -3.5C1.3 -2.4 0.6 -0.9 0 0.2Z"/><path transform="rotate(144)" d="M0 0.2C-0.6 -0.9 -1.3 -2.4 -1.3 -3.5C-1.3 -4.5 -0.65 -5 0 -5C0.65 -5 1.3 -4.5 1.3 -3.5C1.3 -2.4 0.6 -0.9 0 0.2Z"/><path transform="rotate(216)" d="M0 0.2C-0.6 -0.9 -1.3 -2.4 -1.3 -3.5C-1.3 -4.5 -0.65 -5 0 -5C0.65 -5 1.3 -4.5 1.3 -3.5C1.3 -2.4 0.6 -0.9 0 0.2Z"/><path transform="rotate(288)" d="M0 0.2C-0.6 -0.9 -1.3 -2.4 -1.3 -3.5C-1.3 -4.5 -0.65 -5 0 -5C0.65 -5 1.3 -4.5 1.3 -3.5C1.3 -2.4 0.6 -0.9 0 0.2Z"/></g>
<g transform="translate(184,329.05)"><path transform="rotate(0)" d="M0 0.2C-0.6 -0.9 -1.3 -2.4 -1.3 -3.5C-1.3 -4.5 -0.65 -5 0 -5C0.65 -5 1.3 -4.5 1.3 -3.5C1.3 -2.4 0.6 -0.9 0 0.2Z"/><path transform="rotate(72)" d="M0 0.2C-0.6 -0.9 -1.3 -2.4 -1.3 -3.5C-1.3 -4.5 -0.65 -5 0 -5C0.65 -5 1.3 -4.5 1.3 -3.5C1.3 -2.4 0.6 -0.9 0 0.2Z"/><path transform="rotate(144)" d="M0 0.2C-0.6 -0.9 -1.3 -2.4 -1.3 -3.5C-1.3 -4.5 -0.65 -5 0 -5C0.65 -5 1.3 -4.5 1.3 -3.5C1.3 -2.4 0.6 -0.9 0 0.2Z"/><path transform="rotate(216)" d="M0 0.2C-0.6 -0.9 -1.3 -2.4 -1.3 -3.5C-1.3 -4.5 -0.65 -5 0 -5C0.65 -5 1.3 -4.5 1.3 -3.5C1.3 -2.4 0.6 -0.9 0 0.2Z"/><path transform="rotate(288)" d="M0 0.2C-0.6 -0.9 -1.3 -2.4 -1.3 -3.5C-1.3 -4.5 -0.65 -5 0 -5C0.65 -5 1.3 -4.5 1.3 -3.5C1.3 -2.4 0.6 -0.9 0 0.2Z"/></g>
<rect x="216.9" y="320.6" width="8.2" height="7.9" fill="#ff0000"/>
<rect x="231.4" y="329.9" width="7.9" height="7.8" fill="#ff0000"/>
<rect x="224" y="333.2" width="8.5" height="8.6" fill="#ff0000"/>
<line x1="217.2" y1="329.4" x2="238.4" y2="329.4" stroke="#000" stroke-width="2.2" stroke-linecap="round"/>
<path d="M227.2 319.2V342.8M225.3 319.2H229.1M225.3 342.8H229.1" stroke="#ff0000" stroke-width="1.8" fill="none"/>
<path d="M246 327.6L252.9 317.6L260 327.6Z" fill="#000"/>
<line x1="243.8" y1="329.9" x2="264" y2="329.9" stroke="#000" stroke-width="2.2" stroke-linecap="round"/>
<path d="M270.1 370.9L277.1 361L284.1 370.9Z" fill="#ff0000"/>
<path d="M287.4 370.9L294.4 360.4L301.2 370.9Z" fill="#000"/>
<line x1="264.7" y1="373.4" x2="309.4" y2="373.4" stroke="#000" stroke-width="2.5" stroke-linecap="round"/>
<rect x="47.2" y="300.8" width="7.1" height="7.8" fill="#ff0000"/>
<circle cx="50.4" cy="321.2" r="4.8" fill="#000"/>
<text x="59.2" y="308.6" font-family="'Liberation Serif', serif" font-weight="bold" font-size="14.8" fill="#000">Apt-S1</text>
<text x="59.2" y="324.7" font-family="'Liberation Serif', serif" font-weight="bold" font-size="14.8" fill="#000">Apt-A2</text>
<text x="281.6" y="516.6" font-family="'Liberation Serif', serif" font-weight="bold" font-size="33" fill="#000">C</text>
<rect x="419.7" y="503" width="8.1" height="8.8" fill="#ff0000"/>
<rect x="425.8" y="499" width="7.8" height="8.4" fill="#ff0000"/>
<rect x="440" y="495" width="7.8" height="8.7" fill="#ff0000"/>
<line x1="417.8" y1="504.8" x2="449.1" y2="504.8" stroke="#000" stroke-width="2.2" stroke-linecap="round"/>
<path d="M434 495.1V511.2M431.7 495.1H436.3M431.7 511.2H436.3" stroke="#ff0000" stroke-width="1.6" fill="none"/>
<circle cx="455.5" cy="482.5" r="4.6" fill="#000"/>
<circle cx="461" cy="483.5" r="4.5" fill="#000"/>
<circle cx="467.4" cy="487.2" r="4.6" fill="#000"/>
<line x1="448.8" y1="485.1" x2="470.2" y2="485.1" stroke="#000" stroke-width="2.2" stroke-linecap="round"/>
<path d="M460.5 478.8V493.3M457.4 478.8H463.6M457.4 493.3H463.6" stroke="#000" stroke-width="1.8" fill="none"/>
<line x1="421.7" y1="474.5" x2="461.9" y2="474.5" stroke="#000" stroke-width="2.5" stroke-linecap="round"/>
<g transform="translate(440.7,465.95)"><path transform="rotate(0)" d="M0 0.2C-0.6 -0.9 -1.3 -2.4 -1.3 -3.5C-1.3 -4.5 -0.65 -5 0 -5C0.65 -5 1.3 -4.5 1.3 -3.5C1.3 -2.4 0.6 -0.9 0 0.2Z"/><path transform="rotate(72)" d="M0 0.2C-0.6 -0.9 -1.3 -2.4 -1.3 -3.5C-1.3 -4.5 -0.65 -5 0 -5C0.65 -5 1.3 -4.5 1.3 -3.5C1.3 -2.4 0.6 -0.9 0 0.2Z"/><path transform="rotate(144)" d="M0 0.2C-0.6 -0.9 -1.3 -2.4 -1.3 -3.5C-1.3 -4.5 -0.65 -5 0 -5C0.65 -5 1.3 -4.5 1.3 -3.5C1.3 -2.4 0.6 -0.9 0 0.2Z"/><path transform="rotate(216)" d="M0 0.2C-0.6 -0.9 -1.3 -2.4 -1.3 -3.5C-1.3 -4.5 -0.65 -5 0 -5C0.65 -5 1.3 -4.5 1.3 -3.5C1.3 -2.4 0.6 -0.9 0 0.2Z"/><path transform="rotate(288)" d="M0 0.2C-0.6 -0.9 -1.3 -2.4 -1.3 -3.5C-1.3 -4.5 -0.65 -5 0 -5C0.65 -5 1.3 -4.5 1.3 -3.5C1.3 -2.4 0.6 -0.9 0 0.2Z"/></g>
<rect x="476.6" y="459" width="8.2" height="8.7" fill="#ff0000"/>
<rect x="479.7" y="453.1" width="8" height="8.4" fill="#ff0000"/>
<rect x="491.2" y="447.3" width="8.6" height="8.4" fill="#ff0000"/>
<line x1="475" y1="458.4" x2="500.4" y2="458.4" stroke="#000" stroke-width="2.2" stroke-linecap="round"/>
<rect x="485.2" y="462" width="2" height="5.5" fill="#fff"/>
<path d="M488.3 447.1V467.9M484.8 447.1H491.8M484.8 467.9H491.8" stroke="#ff0000" stroke-width="1.8" fill="none"/>
<circle cx="512.5" cy="384.4" r="4.6" fill="#000"/>
<circle cx="518.4" cy="392.5" r="4.5" fill="#000"/>
<circle cx="523.9" cy="400.4" r="4.7" fill="#000"/>
<line x1="506.8" y1="393.7" x2="529.3" y2="393.7" stroke="#000" stroke-width="2.2" stroke-linecap="round"/>
<path d="M518.6 377.9V407M515.45 377.9H521.75M515.45 407H521.75" stroke="#000" stroke-width="1.8" fill="none"/>
<line x1="483.9" y1="372.3" x2="524.7" y2="372.3" stroke="#000" stroke-width="2.5" stroke-linecap="round"/>
<g transform="translate(497.9,365.85)"><path transform="rotate(0)" d="M0 0.2C-0.6 -0.9 -1.3 -2.4 -1.3 -3.5C-1.3 -4.5 -0.65 -5 0 -5C0.65 -5 1.3 -4.5 1.3 -3.5C1.3 -2.4 0.6 -0.9 0 0.2Z"/><path transform="rotate(72)" d="M0 0.2C-0.6 -0.9 -1.3 -2.4 -1.3 -3.5C-1.3 -4.5 -0.65 -5 0 -5C0.65 -5 1.3 -4.5 1.3 -3.5C1.3 -2.4 0.6 -0.9 0 0.2Z"/><path transform="rotate(144)" d="M0 0.2C-0.6 -0.9 -1.3 -2.4 -1.3 -3.5C-1.3 -4.5 -0.65 -5 0 -5C0.65 -5 1.3 -4.5 1.3 -3.5C1.3 -2.4 0.6 -0.9 0 0.2Z"/><path transform="rotate(216)" d="M0 0.2C-0.6 -0.9 -1.3 -2.4 -1.3 -3.5C-1.3 -4.5 -0.65 -5 0 -5C0.65 -5 1.3 -4.5 1.3 -3.5C1.3 -2.4 0.6 -0.9 0 0.2Z"/><path transform="rotate(288)" d="M0 0.2C-0.6 -0.9 -1.3 -2.4 -1.3 -3.5C-1.3 -4.5 -0.65 -5 0 -5C0.65 -5 1.3 -4.5 1.3 -3.5C1.3 -2.4 0.6 -0.9 0 0.2Z"/></g>
<g transform="translate(510.8,365.85)"><path transform="rotate(0)" d="M0 0.2C-0.6 -0.9 -1.3 -2.4 -1.3 -3.5C-1.3 -4.5 -0.65 -5 0 -5C0.65 -5 1.3 -4.5 1.3 -3.5C1.3 -2.4 0.6 -0.9 0 0.2Z"/><path transform="rotate(72)" d="M0 0.2C-0.6 -0.9 -1.3 -2.4 -1.3 -3.5C-1.3 -4.5 -0.65 -5 0 -5C0.65 -5 1.3 -4.5 1.3 -3.5C1.3 -2.4 0.6 -0.9 0 0.2Z"/><path transform="rotate(144)" d="M0 0.2C-0.6 -0.9 -1.3 -2.4 -1.3 -3.5C-1.3 -4.5 -0.65 -5 0 -5C0.65 -5 1.3 -4.5 1.3 -3.5C1.3 -2.4 0.6 -0.9 0 0.2Z"/><path transform="rotate(216)" d="M0 0.2C-0.6 -0.9 -1.3 -2.4 -1.3 -3.5C-1.3 -4.5 -0.65 -5 0 -5C0.65 -5 1.3 -4.5 1.3 -3.5C1.3 -2.4 0.6 -0.9 0 0.2Z"/><path transform="rotate(288)" d="M0 0.2C-0.6 -0.9 -1.3 -2.4 -1.3 -3.5C-1.3 -4.5 -0.65 -5 0 -5C0.65 -5 1.3 -4.5 1.3 -3.5C1.3 -2.4 0.6 -0.9 0 0.2Z"/></g>
<rect x="536.9" y="348.3" width="8.4" height="8.6" fill="#ff0000"/>
<rect x="539.6" y="352.4" width="8.2" height="8" fill="#ff0000"/>
<rect x="542.7" y="362" width="8" height="9.2" fill="#ff0000"/>
<line x1="537.7" y1="359.6" x2="552.9" y2="359.6" stroke="#000" stroke-width="2.2" stroke-linecap="round"/>
<path d="M544.8 348.5V370.9M542.55 348.5H547.05M542.55 370.9H547.05" stroke="#ff0000" stroke-width="1.8" fill="none"/>
<circle cx="569.1" cy="349.6" r="4.3" fill="#000"/>
<circle cx="575.5" cy="346.2" r="4.4" fill="#000"/>
<circle cx="586.8" cy="340.8" r="4.5" fill="#000"/>
<line x1="563.1" y1="345.2" x2="591.1" y2="345.2" stroke="#000" stroke-width="2.2" stroke-linecap="round"/>
<path d="M579.2 334.1V353.5M576.25 334.1H582.15M576.25 353.5H582.15" stroke="#000" stroke-width="1.8" fill="none"/>
<line x1="539.8" y1="329.2" x2="580.3" y2="329.2" stroke="#000" stroke-width="2.5" stroke-linecap="round"/>
<g transform="translate(559.3,322.25)"><path transform="rotate(0)" d="M0 0.2C-0.6 -0.9 -1.3 -2.4 -1.3 -3.5C-1.3 -4.5 -0.65 -5 0 -5C0.65 -5 1.3 -4.5 1.3 -3.5C1.3 -2.4 0.6 -0.9 0 0.2Z"/><path transform="rotate(72)" d="M0 0.2C-0.6 -0.9 -1.3 -2.4 -1.3 -3.5C-1.3 -4.5 -0.65 -5 0 -5C0.65 -5 1.3 -4.5 1.3 -3.5C1.3 -2.4 0.6 -0.9 0 0.2Z"/><path transform="rotate(144)" d="M0 0.2C-0.6 -0.9 -1.3 -2.4 -1.3 -3.5C-1.3 -4.5 -0.65 -5 0 -5C0.65 -5 1.3 -4.5 1.3 -3.5C1.3 -2.4 0.6 -0.9 0 0.2Z"/><path transform="rotate(216)" d="M0 0.2C-0.6 -0.9 -1.3 -2.4 -1.3 -3.5C-1.3 -4.5 -0.65 -5 0 -5C0.65 -5 1.3 -4.5 1.3 -3.5C1.3 -2.4 0.6 -0.9 0 0.2Z"/><path transform="rotate(288)" d="M0 0.2C-0.6 -0.9 -1.3 -2.4 -1.3 -3.5C-1.3 -4.5 -0.65 -5 0 -5C0.65 -5 1.3 -4.5 1.3 -3.5C1.3 -2.4 0.6 -0.9 0 0.2Z"/></g>
<rect x="613.7" y="336.9" width="8.4" height="8" fill="#ff0000"/>
<rect x="617" y="340.9" width="8" height="8.4" fill="#ff0000"/>
<rect x="621.4" y="344.6" width="9.5" height="8.7" fill="#ff0000"/>
<line x1="612" y1="345.8" x2="630.1" y2="345.8" stroke="#000" stroke-width="2.2" stroke-linecap="round"/>
<path d="M621.2 336V355M618.1 336H624.3M618.1 355H624.3" stroke="#ff0000" stroke-width="1.6" fill="none"/>
<circle cx="641.1" cy="325.1" r="4.6" fill="#000"/>
<circle cx="644.2" cy="327.6" r="4.6" fill="#000"/>
<circle cx="655.5" cy="319.1" r="4.7" fill="#000"/>
<line x1="633.9" y1="324.9" x2="661.8" y2="324.9" stroke="#000" stroke-width="2.2" stroke-linecap="round"/>
<path d="M649 314.2V332M646.2 314.2H651.8M646.2 332H651.8" stroke="#000" stroke-width="1.8" fill="none"/>
<line x1="611.9" y1="308.1" x2="652.7" y2="308.1" stroke="#000" stroke-width="2.5" stroke-linecap="round"/>
<g transform="translate(631.2,302.15)"><path transform="rotate(0)" d="M0 0.2C-0.6 -0.9 -1.3 -2.4 -1.3 -3.5C-1.3 -4.5 -0.65 -5 0 -5C0.65 -5 1.3 -4.5 1.3 -3.5C1.3 -2.4 0.6 -0.9 0 0.2Z"/><path transform="rotate(72)" d="M0 0.2C-0.6 -0.9 -1.3 -2.4 -1.3 -3.5C-1.3 -4.5 -0.65 -5 0 -5C0.65 -5 1.3 -4.5 1.3 -3.5C1.3 -2.4 0.6 -0.9 0 0.2Z"/><path transform="rotate(144)" d="M0 0.2C-0.6 -0.9 -1.3 -2.4 -1.3 -3.5C-1.3 -4.5 -0.65 -5 0 -5C0.65 -5 1.3 -4.5 1.3 -3.5C1.3 -2.4 0.6 -0.9 0 0.2Z"/><path transform="rotate(216)" d="M0 0.2C-0.6 -0.9 -1.3 -2.4 -1.3 -3.5C-1.3 -4.5 -0.65 -5 0 -5C0.65 -5 1.3 -4.5 1.3 -3.5C1.3 -2.4 0.6 -0.9 0 0.2Z"/><path transform="rotate(288)" d="M0 0.2C-0.6 -0.9 -1.3 -2.4 -1.3 -3.5C-1.3 -4.5 -0.65 -5 0 -5C0.65 -5 1.3 -4.5 1.3 -3.5C1.3 -2.4 0.6 -0.9 0 0.2Z"/></g>
<rect x="406.1" y="300.8" width="6.5" height="7.6" fill="#ff0000"/>
<ellipse cx="409" cy="319.6" rx="4.1" ry="4.8" fill="#000"/>
<text x="417.1" y="309.5" font-family="'Liberation Serif', serif" font-weight="bold" font-size="14.8" fill="#000">Apt-S1</text>
<text x="416.6" y="324.1" font-family="'Liberation Serif', serif" font-weight="bold" font-size="14.8" fill="#000">Apt-A2</text>
<text x="647.6" y="515.5" font-family="'Liberation Serif', serif" font-weight="bold" font-size="31" fill="#000">D</text>
</svg></body></html>
